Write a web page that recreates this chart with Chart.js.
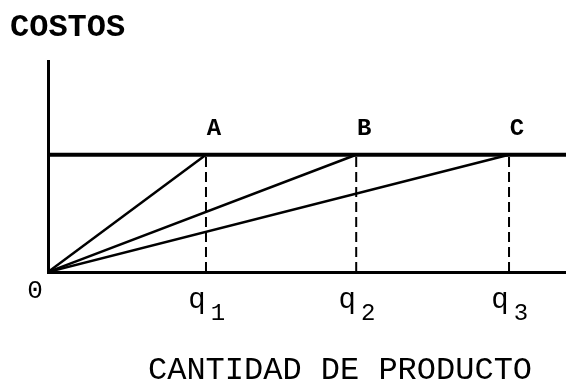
<!DOCTYPE html>
<html>
<head>
<meta charset="utf-8">
<script src="https://cdn.jsdelivr.net/npm/chart.js@4"></script>
<style>
  html, body { margin: 0; padding: 0; background: #fff; }
  #chart { display: block; }
</style>
</head>
<body>
<canvas id="chart" width="566" height="382"></canvas>
<script>
// Costo total alcanzado con cantidades q1, q2, q3
const quantities = [3.05, 5.95, 8.9];
const pointNames = ['A', 'B', 'C'];
const qSubscripts = ['1', '2', '3'];
const costLevel = 1;
const xMax = 10;
const yMax = 1.8;

const FONT = '"Liberation Mono", "DejaVu Sans Mono", monospace';

// lineas: nivel de costo, rayos desde el origen y verticales punteadas
const datasets = [];
datasets.push({
  data: [{ x: 0, y: costLevel }, { x: xMax, y: costLevel }],
  borderColor: '#000', borderWidth: 4
});
quantities.forEach(q => {
  datasets.push({
    data: [{ x: 0, y: 0 }, { x: q, y: costLevel }],
    borderColor: '#000', borderWidth: 2.5
  });
  datasets.push({
    data: [{ x: q, y: 0 }, { x: q, y: costLevel }],
    borderColor: '#000', borderWidth: 2, borderDash: [10, 5]
  });
});

const labelsPlugin = {
  id: 'labels',
  afterDraw(chart) {
    const ctx = chart.ctx;
    const xs = chart.scales.x, ys = chart.scales.y;
    ctx.save();
    ctx.fillStyle = '#000';
    ctx.textBaseline = 'middle';

    ctx.textAlign = 'left';
    ctx.font = 'bold 32px ' + FONT;
    ctx.fillText('COSTOS', 10, 28);

    ctx.textAlign = 'center';
    ctx.font = 'bold 24px ' + FONT;
    const yTop = ys.getPixelForValue(costLevel);
    quantities.forEach((q, i) => {
      ctx.fillText(pointNames[i], xs.getPixelForValue(q) + 8, yTop - 26);
    });

    ctx.font = '26px ' + FONT;
    ctx.fillText('0', xs.getPixelForValue(0) - 13, ys.getPixelForValue(0) + 19);

    const yq = ys.getPixelForValue(0) + 28;
    quantities.forEach((q, i) => {
      const px = xs.getPixelForValue(q);
      ctx.font = '29px ' + FONT;
      ctx.fillText('q', px - 9, yq);
      ctx.font = '24px ' + FONT;
      ctx.fillText(qSubscripts[i], px + 12, yq + 14);
    });

    ctx.font = '32px ' + FONT;
    ctx.fillText('CANTIDAD DE PRODUCTO', 340, 371);
    ctx.restore();
  }
};

new Chart(document.getElementById('chart'), {
  type: 'scatter',
  data: { datasets },
  options: {
    responsive: false,
    animation: false,
    devicePixelRatio: 1,
    showLine: true,
    elements: { point: { radius: 0 }, line: { tension: 0 } },
    layout: { padding: { left: 48, top: 61, right: 0, bottom: 110 } },
    plugins: { legend: { display: false }, tooltip: { enabled: false } },
    scales: {
      x: {
        type: 'linear', min: 0, max: xMax,
        ticks: { display: false },
        grid: { display: false, drawTicks: false },
        border: { display: true, color: '#000', width: 3 }
      },
      y: {
        type: 'linear', min: 0, max: yMax,
        ticks: { display: false },
        grid: { display: false, drawTicks: false },
        border: { display: true, color: '#000', width: 3 }
      }
    }
  },
  plugins: [labelsPlugin]
});
</script>
</body>
</html>
